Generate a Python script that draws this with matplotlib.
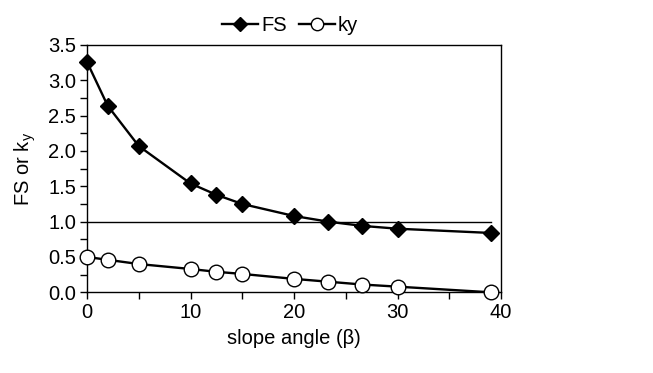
import matplotlib.pyplot as plt
from matplotlib.ticker import MultipleLocator

plt.rcParams['font.family'] = ['Liberation Sans', 'DejaVu Sans']

# slope angle (degrees) and computed factor of safety / yield coefficient
slope_angle = [0, 2, 5, 10, 12.5, 15, 20, 23.3, 26.6, 30, 39]
fs_values = [3.26, 2.64, 2.07, 1.54, 1.38, 1.25, 1.08, 1.00, 0.94, 0.90, 0.84]
ky_values = [0.50, 0.46, 0.40, 0.33, 0.29, 0.26, 0.19, 0.15, 0.11, 0.08, 0.00]
fs_limit = 1.0

fs_txt = 14.5

fig = plt.figure(figsize=(6.53, 3.73), dpi=100)
ax = fig.add_axes([87 / 653, 1 - 292.3 / 373, (501 - 87) / 653, (292.3 - 45) / 373])

ax.plot([slope_angle[0], slope_angle[-1]], [fs_limit, fs_limit],
        color="black", lw=1.0, zorder=2)
ax.plot(slope_angle, fs_values, color="black", lw=1.7, marker="D",
        markersize=8, markerfacecolor="black", markeredgecolor="black",
        label="FS", zorder=3, clip_on=False)
ax.plot(slope_angle, ky_values, color="black", lw=1.7, marker="o",
        markersize=10.5, markerfacecolor="white", markeredgecolor="black",
        markeredgewidth=1.0, label="ky", zorder=4, clip_on=False)

ax.set_xlim(0, 40)
ax.set_ylim(0, 3.5)
ax.xaxis.set_major_locator(MultipleLocator(10))
ax.xaxis.set_minor_locator(MultipleLocator(5))
ax.yaxis.set_major_locator(MultipleLocator(0.5))
ax.yaxis.set_minor_locator(MultipleLocator(0.25))
ax.yaxis.set_major_formatter(plt.FormatStrFormatter("%.1f"))
ax.tick_params(which="both", direction="out", length=5, width=1.0,
               labelsize=fs_txt, pad=3)
for sp in ax.spines.values():
    sp.set_linewidth(1.0)

ax.set_xlabel("slope angle (\u03b2)", fontsize=fs_txt, labelpad=5)
ax.set_ylabel(r"FS or k$_\mathregular{y}$", fontsize=fs_txt, labelpad=7)

leg = ax.legend(loc="lower center", bbox_to_anchor=(0.49, 1.0), ncol=2,
                frameon=False, fontsize=fs_txt, handlelength=1.8,
                handletextpad=0.15, columnspacing=0.6, borderaxespad=0.1,
                markerscale=0.85)

fig.savefig("out.png", dpi=100)
